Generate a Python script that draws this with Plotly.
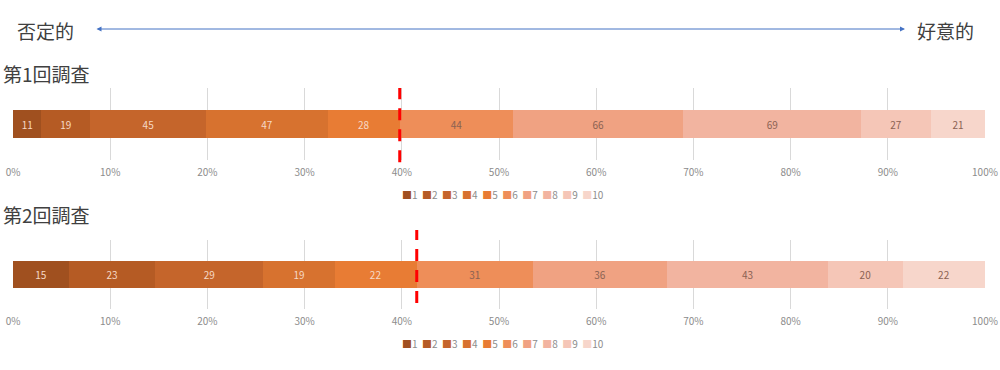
import plotly.graph_objects as go

levels = ["1", "2", "3", "4", "5", "6", "7", "8", "9", "10"]
survey1 = [11, 19, 45, 47, 28, 44, 66, 69, 27, 21]
survey2 = [15, 23, 29, 19, 22, 31, 36, 43, 20, 22]
survey_titles = ["第1回調査", "第2回調査"]
x_ticks = [0, 10, 20, 30, 40, 50, 60, 70, 80, 90, 100]
x_tick_labels = [f"{t}%" for t in x_ticks]

colors = ["#A0501F", "#B55B24", "#C5652B", "#D7722F", "#E87C34",
          "#EE8E59", "#F0A282", "#F2B4A0", "#F5C6B7", "#F7D6CB"]
text_colors = ["#F6D9C6"] * 5 + ["#8B6253"] * 5

W, H = 1000, 370
def py(p):
    return 1 - p / H

fig = go.Figure()
for si, (vals, yax, xax) in enumerate([(survey1, "y", "x"), (survey2, "y2", "x2")]):
    for lv, v, c, tc in zip(levels, vals, colors, text_colors):
        fig.add_trace(go.Bar(
            y=[survey_titles[si]], x=[v], orientation="h", name=lv,
            marker=dict(color=c, line=dict(width=0)),
            text=[str(v)], textposition="inside", insidetextanchor="middle",
            textangle=0, constraintext="none",
            textfont=dict(color=tc, size=10, family="Noto Sans CJK JP"),
            width=0.39, xaxis=xax, yaxis=yax, showlegend=False,
            hovertemplate="%{x:.1f}%<extra>" + lv + "</extra>",
        ))

axis_common = dict(
    range=[0, 100], tickvals=x_ticks, ticktext=x_tick_labels,
    showgrid=True, gridcolor="#D9D9D9", gridwidth=1, zeroline=False,
    showline=False, ticks="", ticklabelstandoff=5, automargin=False,
    tickfont=dict(size=10, color="#8C8C8C", family="Noto Sans CJK JP"),
    domain=[13 / W, 985 / W], fixedrange=True,
)
fig.update_layout(
    width=W, height=H, margin=dict(l=0, r=0, t=0, b=0),
    paper_bgcolor="white", plot_bgcolor="white",
    barmode="stack", barnorm="percent",
    xaxis=dict(axis_common, anchor="y"),
    xaxis2=dict(axis_common, anchor="y2"),
    yaxis=dict(domain=[py(160), py(88)], visible=False, anchor="x", range=[-0.5, 0.5],
               automargin=False, fixedrange=True),
    yaxis2=dict(domain=[py(309), py(240)], visible=False, anchor="x2", range=[-0.5, 0.5],
                automargin=False, fixedrange=True),
    font=dict(family="Noto Sans CJK JP"),
)

# dashed separators between negative (1-5) and positive (6-10)
cut1 = sum(survey1[:5]) / sum(survey1) * 100
cut2 = sum(survey2[:5]) / sum(survey2) * 100
fig.add_shape(type="line", xref="x", yref="y domain", x0=cut1, x1=cut1, y0=-0.03, y1=1.0,
              line=dict(color="#FF0000", width=3, dash="12px,9px"))
fig.add_shape(type="line", xref="x2", yref="y2 domain", x0=cut2, x1=cut2, y0=0.087, y1=1.145,
              line=dict(color="#FF0000", width=3, dash="12px,9px"))

title_font = dict(size=19, color="#404040", family="Noto Sans CJK JP")
fig.add_annotation(text="否定的", xref="paper", yref="paper", x=15 / W, y=py(30),
                   xanchor="left", yanchor="middle", showarrow=False, font=title_font)
fig.add_annotation(text="好意的", xref="paper", yref="paper", x=976 / W, y=py(30),
                   xanchor="right", yanchor="middle", showarrow=False, font=title_font)
fig.add_annotation(text=survey_titles[0], xref="paper", yref="paper", x=1 / W, y=py(73),
                   xanchor="left", yanchor="middle", showarrow=False, font=title_font)
fig.add_annotation(text=survey_titles[1], xref="paper", yref="paper", x=1 / W, y=py(215),
                   xanchor="left", yanchor="middle", showarrow=False, font=title_font)
# double-headed arrow
fig.add_annotation(text="", xref="paper", yref="paper", x=905 / W, y=py(29),
                   ax=-810, ay=0, axref="pixel", ayref="pixel", showarrow=True,
                   arrowside="end+start", arrowhead=2, arrowsize=1, arrowwidth=1,
                   arrowcolor="#4472C4", standoff=0, startstandoff=0)

# compact legends
legend_text = "&nbsp;&nbsp;".join(
    f'<span style="color:{c}">■</span>{lv}' for lv, c in zip(levels, colors))
for yy in (194, 343):
    fig.add_annotation(text=legend_text, xref="paper", yref="paper", x=503 / W, y=py(yy),
                       xanchor="center", yanchor="middle", showarrow=False,
                       font=dict(size=10, color="#8C8C8C", family="Noto Sans CJK JP"))

fig.write_html("out.html", config={"displayModeBar": False},
               post_script="document.body.style.margin='0';document.body.style.overflow='hidden';")
